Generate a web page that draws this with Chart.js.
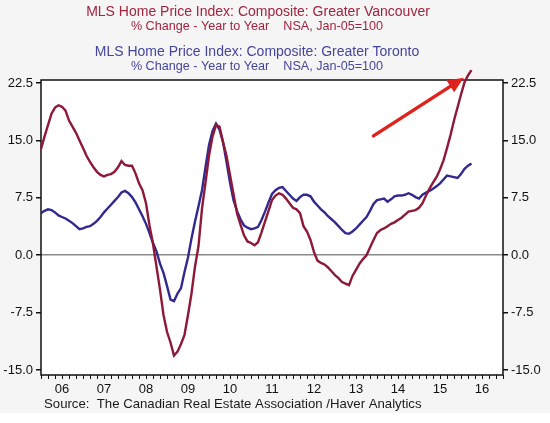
<!DOCTYPE html>
<html>
<head>
<meta charset="utf-8">
<script src="https://cdn.jsdelivr.net/npm/chart.js@4.4.0/dist/chart.umd.min.js"></script>
<style>
  html, body { margin: 0; padding: 0; background: #f5f5f5; }
  canvas { display: block; }
</style>
</head>
<body>
<canvas id="chart" width="550" height="423"></canvas>
<script>
// Monthly % change, year to year, starting Jan 2006 (index 0)
const vancouver = [
  13.9, 15.5, 17.0, 18.5, 19.3, 19.6, 19.4, 18.9, 17.6, 16.8, 16.0, 15.0,
  14.0, 13.0, 12.2, 11.5, 10.9, 10.5, 10.3, 10.5, 10.6, 10.9, 11.5, 12.3,
  11.8, 11.7, 11.7, 10.7, 9.4, 8.5, 6.8, 3.9, 1.5, -1.5, -4.5, -7.8,
  -10.0, -11.4, -13.1, -12.6, -11.6, -10.4, -7.8, -5.0, -1.5, 1.2, 6.1, 9.5,
  13.0, 15.5, 17.0, 16.8, 14.8, 13.0, 10.5, 8.0, 5.5, 4.0, 2.6, 1.8,
  1.6, 1.3, 1.7, 3.0, 4.4, 5.8, 7.2, 7.8, 8.1, 7.9, 7.4, 6.8,
  6.2, 6.0, 5.5, 3.8, 3.1, 2.0, 0.4, -0.7, -1.0, -1.2, -1.6, -2.1,
  -2.6, -3.0, -3.5, -3.7, -3.9, -2.7, -1.9, -1.1, -0.5, 0.0, 1.0, 2.0,
  2.9, 3.3, 3.5, 3.8, 4.1, 4.3, 4.6, 4.9, 5.3, 5.7, 5.8, 5.9,
  6.2, 6.8, 7.8, 8.7, 9.5, 10.2, 11.2, 12.4, 14.0, 15.7, 17.6, 19.3,
  21.0, 22.6, 23.5, 24.2
];
const toronto = [
  5.5, 5.8, 6.0, 5.9, 5.6, 5.2, 5.0, 4.8, 4.5, 4.2, 3.8, 3.4,
  3.5, 3.7, 3.8, 4.1, 4.5, 5.0, 5.6, 6.1, 6.6, 7.1, 7.6, 8.2,
  8.4, 8.1, 7.6, 6.9, 6.0, 5.1, 4.1, 2.9, 1.6, 0.5, -1.1, -2.3,
  -4.0, -5.8, -6.0, -5.0, -4.3, -2.2, -0.3, 2.2, 4.4, 6.4, 8.5, 11.5,
  14.4, 16.2, 17.2, 16.4, 14.8, 12.2, 9.5, 7.2, 5.8, 4.7, 3.9, 3.6,
  3.4, 3.5, 3.7, 4.6, 5.7, 6.9, 8.0, 8.5, 8.8, 8.9, 8.4, 7.9,
  7.4, 7.1, 7.6, 7.9, 7.9, 7.7, 7.0, 6.5, 6.0, 5.6, 5.1, 4.7,
  4.3, 3.8, 3.3, 2.9, 2.8, 3.1, 3.5, 4.0, 4.5, 5.0, 5.8, 6.7,
  7.2, 7.3, 7.4, 7.0, 7.3, 7.7, 7.8, 7.8, 7.9, 8.1, 7.9, 7.6,
  7.4, 7.9, 8.2, 8.4, 8.7, 9.0, 9.4, 9.9, 10.4, 10.3, 10.2, 10.1,
  10.6, 11.3, 11.7, 12.0
];
const yearLabels = ['06', '07', '08', '09', '10', '11', '12', '13', '14', '15', '16'];
const yTicks = [-15, -7.5, 0, 7.5, 15, 22.5];
// annotation arrow, in data units (month index, value)
const arrowFrom = [95, 15.6];
const arrowTo = [120.8, 23.2];

const RED = '#8e1838';
const BLUE = '#32298f';
const FONT = '"Liberation Sans", Arial, sans-serif';

const toPoints = arr => arr.map((v, i) => ({ x: i, y: v }));

const tickFont = { family: FONT, size: 13 };

function yAxis(position, onChart) {
    return {
        type: 'linear',
        position: position,
        min: -15.65,
        max: 22.9,
        afterBuildTicks: s => { s.ticks = yTicks.map(v => ({ value: v })); },
        afterFit: s => { s.width = position === 'left' ? 41 : 47; },
        border: { display: false },
        grid: {
            drawOnChartArea: onChart,
            color: c => (c.tick && c.tick.value === 0) ? '#8a8a8a' : 'rgba(0,0,0,0)',
            lineWidth: 1.5,
            tickColor: '#111',
            tickLength: 5
        },
        ticks: {
            color: '#111',
            font: tickFont,
            padding: 3,
            callback: v => v.toFixed(1)
        }
    };
}

const framePlugin = {
    id: 'frame',
    beforeDraw(chart) {
        const { ctx, chartArea: a, width, height } = chart;
        ctx.save();
        ctx.fillStyle = '#f5f5f5';
        ctx.fillRect(0, 0, width, height);
        ctx.fillStyle = '#ffffff';
        ctx.fillRect(0, 413, width, height - 413);
        ctx.fillRect(a.left, a.top, a.width, a.height);

        // titles
        ctx.textAlign = 'center';
        ctx.textBaseline = 'middle';
        ctx.fillStyle = '#a0243e';
        ctx.font = '14px ' + FONT;
        ctx.fillText('MLS Home Price Index: Composite: Greater Vancouver', 258, 12);
        ctx.font = '12.6px ' + FONT;
        ctx.fillText('% Change - Year to Year    NSA, Jan-05=100', 257, 27);
        ctx.fillStyle = '#45459a';
        ctx.font = '14px ' + FONT;
        ctx.fillText('MLS Home Price Index: Composite: Greater Toronto', 257, 52);
        ctx.font = '12.6px ' + FONT;
        ctx.fillText('% Change - Year to Year    NSA, Jan-05=100', 257, 67);

        // source
        ctx.textAlign = 'left';
        ctx.fillStyle = '#1a1a1a';
        ctx.font = '13.2px ' + FONT;
        ctx.fillText('Source:  The Canadian Real Estate Association /Haver Analytics', 44, 404);
        ctx.restore();
    },
    beforeDatasetsDraw(chart) {
        const { ctx, chartArea: a } = chart;
        ctx.save();
        ctx.strokeStyle = '#111';
        ctx.lineWidth = 1.5;
        ctx.strokeRect(a.left, a.top, a.width, a.height);
        ctx.restore();
    },
    afterDatasetsDraw(chart) {
        const { ctx, scales } = chart;
        const x1 = scales.x.getPixelForValue(arrowFrom[0]);
        const y1 = scales.y.getPixelForValue(arrowFrom[1]);
        const x2 = scales.x.getPixelForValue(arrowTo[0]);
        const y2 = scales.y.getPixelForValue(arrowTo[1]);
        const ang = Math.atan2(y2 - y1, x2 - x1);
        const headLen = 16, headW = 7;
        const bx = x2 - headLen * Math.cos(ang);
        const by = y2 - headLen * Math.sin(ang);
        ctx.save();
        ctx.strokeStyle = '#e0221c';
        ctx.fillStyle = '#e0221c';
        ctx.lineWidth = 3.5;
        ctx.lineCap = 'round';
        ctx.beginPath();
        ctx.moveTo(x1, y1);
        ctx.lineTo(bx, by);
        ctx.stroke();
        ctx.beginPath();
        ctx.moveTo(x2, y2);
        ctx.lineTo(bx + headW * Math.sin(ang), by - headW * Math.cos(ang));
        ctx.lineTo(bx - headW * Math.sin(ang), by + headW * Math.cos(ang));
        ctx.closePath();
        ctx.fill();
        ctx.restore();
    }
};

new Chart(document.getElementById('chart'), {
    type: 'line',
    data: {
        datasets: [{
            label: 'Greater Vancouver',
            data: toPoints(vancouver),
            borderColor: RED,
            borderWidth: 2.4,
            pointRadius: 0,
            tension: 0,
            clip: false
        }, {
            label: 'Greater Toronto',
            data: toPoints(toronto),
            borderColor: BLUE,
            borderWidth: 2.4,
            pointRadius: 0,
            tension: 0
        }]
    },
    options: {
        responsive: false,
        animation: false,
        layout: { padding: { top: 80, left: 0, right: 0, bottom: 0 } },
        plugins: {
            legend: { display: false },
            title: { display: false },
            tooltip: { enabled: false }
        },
        scales: {
            x: {
                type: 'linear',
                min: 0,
                max: 132,
                afterFit: s => { s.height = 48; },
                border: { display: false },
                grid: {
                    drawOnChartArea: false,
                    tickColor: '#111',
                    tickLength: 4
                },
                ticks: {
                    stepSize: 2,
                    autoSkip: false,
                    maxRotation: 0,
                    minRotation: 0,
                    padding: 3,
                    color: '#111',
                    font: tickFont,
                    callback: v => (v % 12 === 6) ? yearLabels[(v - 6) / 12] : ''
                }
            },
            y: yAxis('left', true),
            y2: yAxis('right', false)
        }
    },
    plugins: [framePlugin]
});
</script>
</body>
</html>
